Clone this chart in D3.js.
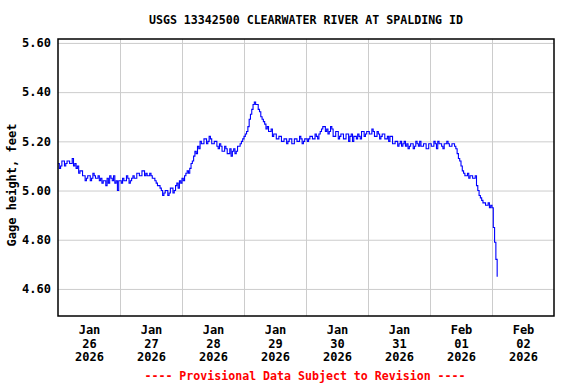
<!DOCTYPE html>
<html>
<head>
<meta charset="utf-8">
<script src="https://cdn.jsdelivr.net/npm/d3@7"></script>
<style>
  body { margin: 0; background: #fff; }
  text { font-family: "DejaVu Sans Mono", monospace; font-weight: bold; }
  .grid line { stroke: #cccccc; stroke-width: 1; }
  .grid path { display: none; }
</style>
</head>
<body>
<div id="chart"></div>
<script>
// half-hourly gage height readings, starting Jan 26 2026 00:00
const start_time = new Date(2026, 0, 26, 0, 0)
const gage_height = [
  5.11, 5.09, 5.10, 5.12, 5.12, 5.10, 5.11, 5.12, 5.12, 5.11, 5.11, 5.13, 5.10, 5.11, 5.09, 5.10,
  5.07, 5.08, 5.08, 5.06, 5.06, 5.04, 5.05, 5.06, 5.06, 5.04, 5.05, 5.07, 5.06, 5.05, 5.05, 5.06,
  5.04, 5.05, 5.03, 5.04, 5.04, 5.02, 5.05, 5.03, 5.06, 5.05, 5.04, 5.06, 5.03, 5.04, 5.00, 5.04,
  5.04, 5.03, 5.05, 5.04, 5.04, 5.06, 5.05, 5.03, 5.04, 5.05, 5.06, 5.05, 5.05, 5.07, 5.07, 5.06,
  5.06, 5.08, 5.08, 5.06, 5.07, 5.06, 5.06, 5.07, 5.06, 5.05, 5.05, 5.04, 5.03, 5.02, 5.02, 5.01,
  5.00, 4.98, 4.99, 5.00, 5.00, 4.98, 4.99, 5.01, 5.01, 4.99, 5.00, 5.02, 5.03, 5.01, 5.04, 5.03,
  5.05, 5.04, 5.06, 5.07, 5.08, 5.07, 5.09, 5.11, 5.12, 5.14, 5.16, 5.15, 5.18, 5.17, 5.20, 5.19,
  5.19, 5.21, 5.21, 5.19, 5.20, 5.22, 5.21, 5.19, 5.19, 5.20, 5.20, 5.18, 5.17, 5.19, 5.18, 5.16,
  5.16, 5.18, 5.17, 5.15, 5.15, 5.17, 5.14, 5.16, 5.17, 5.15, 5.16, 5.18, 5.18, 5.19, 5.20, 5.21,
  5.22, 5.23, 5.24, 5.26, 5.29, 5.31, 5.33, 5.35, 5.36, 5.35, 5.35, 5.33, 5.32, 5.30, 5.29, 5.28,
  5.27, 5.25, 5.26, 5.24, 5.24, 5.25, 5.22, 5.23, 5.23, 5.21, 5.21, 5.22, 5.22, 5.20, 5.20, 5.21,
  5.21, 5.19, 5.20, 5.21, 5.21, 5.19, 5.19, 5.21, 5.21, 5.20, 5.20, 5.22, 5.21, 5.19, 5.20, 5.21,
  5.21, 5.20, 5.21, 5.22, 5.22, 5.21, 5.21, 5.23, 5.22, 5.21, 5.23, 5.24, 5.25, 5.26, 5.26, 5.24,
  5.25, 5.23, 5.24, 5.26, 5.25, 5.22, 5.22, 5.24, 5.24, 5.21, 5.22, 5.23, 5.23, 5.21, 5.21, 5.23,
  5.23, 5.20, 5.22, 5.23, 5.20, 5.22, 5.22, 5.21, 5.23, 5.22, 5.21, 5.24, 5.24, 5.22, 5.23, 5.24,
  5.24, 5.23, 5.23, 5.25, 5.24, 5.22, 5.22, 5.24, 5.23, 5.21, 5.22, 5.23, 5.23, 5.21, 5.21, 5.22,
  5.20, 5.22, 5.22, 5.19, 5.19, 5.20, 5.20, 5.18, 5.19, 5.20, 5.18, 5.19, 5.20, 5.18, 5.19, 5.17,
  5.18, 5.19, 5.19, 5.17, 5.18, 5.20, 5.19, 5.18, 5.20, 5.18, 5.18, 5.19, 5.19, 5.17, 5.17, 5.19,
  5.19, 5.18, 5.18, 5.20, 5.19, 5.17, 5.20, 5.19, 5.19, 5.18, 5.17, 5.19, 5.19, 5.20, 5.19, 5.18,
  5.18, 5.19, 5.19, 5.18, 5.17, 5.15, 5.13, 5.12, 5.10, 5.08, 5.07, 5.06, 5.06, 5.07, 5.05, 5.06,
  5.06, 5.05, 5.05, 5.06, 5.02, 5.00, 4.98, 4.97, 4.96, 4.95, 4.95, 4.94, 4.94, 4.95, 4.93, 4.94,
  4.93, 4.85, 4.79, 4.72, 4.65
]
const y_ticks = [4.60, 4.80, 5.00, 5.20, 5.40, 5.60]
const day_labels = [
  ["Jan", "26", "2026"], ["Jan", "27", "2026"], ["Jan", "28", "2026"], ["Jan", "29", "2026"],
  ["Jan", "30", "2026"], ["Jan", "31", "2026"], ["Feb", "01", "2026"], ["Feb", "02", "2026"]
]
const title = "USGS 13342500 CLEARWATER RIVER AT SPALDING ID"
const y_title = "Gage height, feet"
const footer = "---- Provisional Data Subject to Revision ----"

const margin = {top: 39, right: 22, bottom: 68, left: 58}
const W = 576, H = 384
const width = W - margin.left - margin.right,
      height = H - margin.top - margin.bottom

let svg = d3.select("#chart").append("svg")
    .attr("width", W)
    .attr("height", H)
let g = svg.append("g")
    .attr("transform", "translate(" + margin.left + "," + margin.top + ")")

const end_time = d3.timeDay.offset(start_time, 8)
const x = d3.scaleTime().domain([start_time, end_time]).range([0, width])
const y = d3.scaleLinear().domain([4.49, 5.616]).range([height, 0])

const data = gage_height.map((v, i) => ({date: d3.timeMinute.offset(start_time, i * 30), value: v}))
const midnights = d3.timeDay.range(d3.timeDay.offset(start_time, 1), end_time)
const noons = d3.timeDay.range(start_time, end_time).map(d => d3.timeHour.offset(d, 12))

// grid
g.append("g")
    .attr("class", "grid")
    .call(d3.axisLeft(y).tickValues(y_ticks).tickSize(-width).tickFormat(""))
g.append("g")
    .attr("class", "grid")
    .attr("transform", "translate(0," + height + ")")
    .call(d3.axisBottom(x).tickValues(midnights).tickSize(-height).tickFormat(""))

// y labels
let ya = g.append("g")
    .call(d3.axisLeft(y).tickValues(y_ticks).tickSize(0).tickPadding(7).tickFormat(d3.format(".2f")))
ya.select(".domain").remove()
ya.selectAll("text").attr("font-size", 12).attr("font-family", null).attr("fill", "#000")

// x labels, three lines each
let xa = g.append("g")
    .attr("transform", "translate(0," + height + ")")
    .call(d3.axisBottom(x).tickValues(noons).tickSize(0).tickFormat(""))
xa.select(".domain").remove()
xa.selectAll(".tick text")
    .attr("font-size", 12).attr("font-family", null).attr("fill", "#000")
    .attr("y", 0).attr("dy", null)
    .each(function (d, i) {
        const t = d3.select(this)
        day_labels[i].forEach((s, k) => {
            t.append("tspan").attr("x", 0).attr("y", 18 + k * 13.5).text(s)
        })
    })

// line
svg.append("clipPath").attr("id", "clip")
    .append("rect").attr("width", width).attr("height", height)
g.append("path")
    .datum(data)
    .attr("clip-path", "url(#clip)")
    .attr("fill", "none")
    .attr("stroke", "#0000ff")
    .attr("stroke-width", 1.1)
    .attr("d", d3.line()
        .curve(d3.curveStepAfter)
        .x(d => x(d.date))
        .y(d => y(d.value)))

// frame
g.append("rect")
    .attr("width", width).attr("height", height)
    .attr("fill", "none").attr("stroke", "#000").attr("stroke-width", 1.5)

svg.append("text")
    .attr("x", margin.left + width / 2).attr("y", 24)
    .attr("text-anchor", "middle").attr("font-size", 11.6)
    .text(title)

svg.append("text")
    .attr("transform", "translate(16," + 185 + ") rotate(-90)")
    .attr("text-anchor", "middle").attr("font-size", 12)
    .text(y_title)

svg.append("text")
    .attr("x", margin.left + width / 2 - 1).attr("y", 380)
    .attr("text-anchor", "middle").attr("font-size", 11.6)
    .attr("fill", "#ff0000")
    .text(footer)
</script>
</body>
</html>
